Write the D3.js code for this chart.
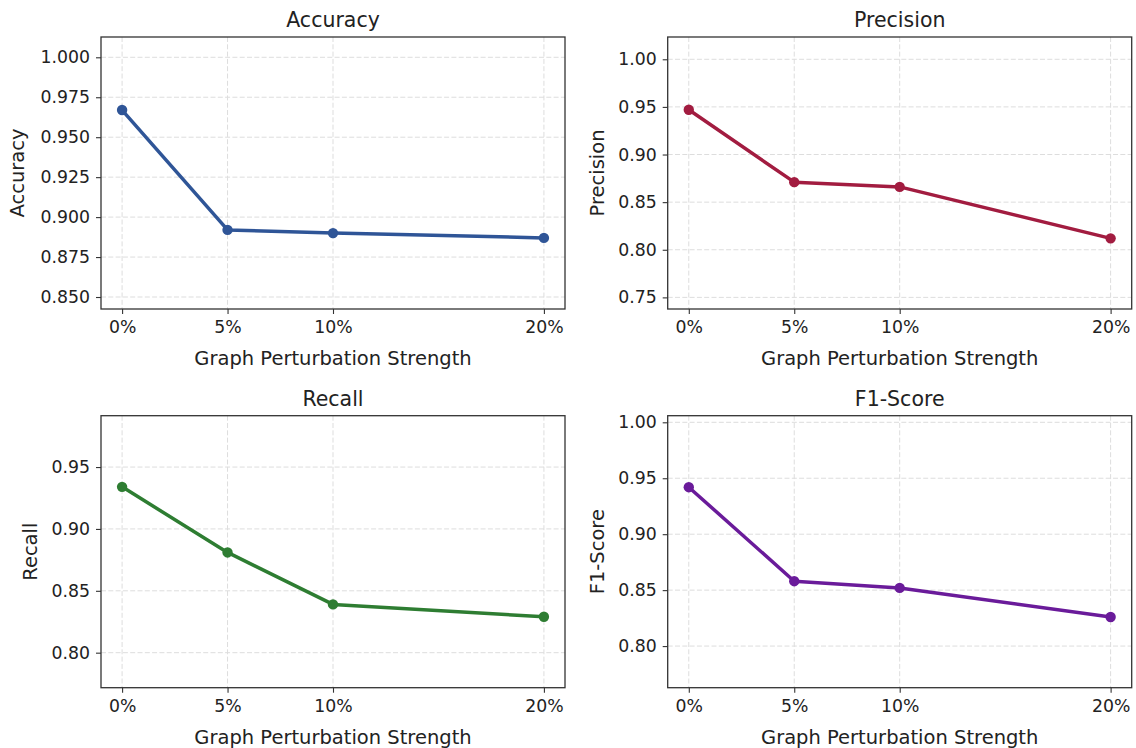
<!DOCTYPE html>
<html>
<head>
<meta charset="utf-8">
<script src="https://cdn.jsdelivr.net/npm/d3@7"></script>
<style>
  body { margin: 0; background: #fff; }
  svg text { font-family: "DejaVu Sans", sans-serif; fill: #222; }
</style>
</head>
<body>
<div id="chart"></div>
<script>
// perturbation levels (x) and their labels
const strengths = [0, 5, 10, 20];
const strengthLabels = ["0%", "5%", "10%", "20%"];

// metric values
const accuracy  = [0.967, 0.892, 0.890, 0.887];
const precision = [0.947, 0.871, 0.866, 0.812];
const recall    = [0.934, 0.881, 0.839, 0.829];
const f1Score   = [0.942, 0.858, 0.852, 0.826];

// y ticks per panel
const accTicks  = [0.850, 0.875, 0.900, 0.925, 0.950, 0.975, 1.000];
const precTicks = [0.75, 0.80, 0.85, 0.90, 0.95, 1.00];
const recTicks  = [0.80, 0.85, 0.90, 0.95];
const f1Ticks   = [0.80, 0.85, 0.90, 0.95, 1.00];

// y limits per panel
const accLim  = [0.8425, 1.0127];
const precLim = [0.7378, 1.0234];
const recLim  = [0.7717, 0.9915];
const f1Lim   = [0.7628, 1.0059];

const W = 1136, H = 748;
const pw = 464, ph = 272;

const panels = [
  {title: "Accuracy",  values: accuracy,  ticks: accTicks,  lim: accLim,  fmt: ".3f", color: "#2f5597", x: 101,   y: 37,    labelOff: 77},
  {title: "Precision", values: precision, ticks: precTicks, lim: precLim, fmt: ".2f", color: "#a21c40", x: 667.7, y: 37,    labelOff: 64},
  {title: "Recall",    values: recall,    ticks: recTicks,  lim: recLim,  fmt: ".2f", color: "#2e7d32", x: 101,   y: 415.7, labelOff: 64},
  {title: "F1-Score",  values: f1Score,   ticks: f1Ticks,   lim: f1Lim,   fmt: ".2f", color: "#6a1b9a", x: 667.7, y: 415.7, labelOff: 64}
];

const svg = d3.select("#chart").append("svg")
    .attr("width", W)
    .attr("height", H);

const x = d3.scaleLinear().domain([-1, 21]).range([0, pw]);

panels.forEach(p => {
  const g = svg.append("g").attr("transform", `translate(${p.x},${p.y})`);
  const y = d3.scaleLinear().domain(p.lim).range([ph, 0]);

  // grid
  g.append("g")
    .selectAll("line")
    .data(p.ticks)
    .join("line")
      .attr("x1", 0).attr("x2", pw)
      .attr("y1", d => y(d)).attr("y2", d => y(d))
      .attr("stroke", "#dddddd")
      .attr("stroke-width", 1)
      .attr("stroke-dasharray", "5,2.3");
  g.append("g")
    .selectAll("line")
    .data(strengths)
    .join("line")
      .attr("y1", 0).attr("y2", ph)
      .attr("x1", d => x(d)).attr("x2", d => x(d))
      .attr("stroke", "#dddddd")
      .attr("stroke-width", 1)
      .attr("stroke-dasharray", "5,2.3");

  // axes
  const xAxis = g.append("g")
    .attr("transform", `translate(0,${ph})`)
    .call(d3.axisBottom(x).tickValues(strengths)
      .tickFormat((d, i) => strengthLabels[i]).tickSize(5).tickPadding(7).tickSizeOuter(0));
  const yAxis = g.append("g")
    .call(d3.axisLeft(y).tickValues(p.ticks)
      .tickFormat(d3.format(p.fmt)).tickSize(5).tickPadding(6).tickSizeOuter(0));
  [xAxis, yAxis].forEach(a => {
    a.select(".domain").remove();
    a.selectAll(".tick line").attr("stroke", "#333").attr("stroke-width", 1.1);
    a.selectAll(".tick text").style("font-size", "17.3px").attr("fill", "#222");
  });

  // frame
  g.append("rect")
    .attr("width", pw).attr("height", ph)
    .attr("fill", "none")
    .attr("stroke", "#333")
    .attr("stroke-width", 1.3);

  // line + markers
  const pts = strengths.map((s, i) => ({s, v: p.values[i]}));
  g.append("path")
    .datum(pts)
    .attr("fill", "none")
    .attr("stroke", p.color)
    .attr("stroke-width", 3.5)
    .attr("stroke-linejoin", "round")
    .attr("d", d3.line().x(d => x(d.s)).y(d => y(d.v)));
  g.selectAll("circle")
    .data(pts)
    .join("circle")
      .attr("cx", d => x(d.s))
      .attr("cy", d => y(d.v))
      .attr("r", 5.2)
      .attr("fill", p.color);

  // texts
  g.append("text")
    .attr("x", pw / 2).attr("y", -10)
    .attr("text-anchor", "middle")
    .style("font-size", "20.5px")
    .text(p.title);
  g.append("text")
    .attr("x", pw / 2).attr("y", ph + 56)
    .attr("text-anchor", "middle")
    .style("font-size", "19.5px")
    .text("Graph Perturbation Strength");
  g.append("text")
    .attr("transform", `translate(${-p.labelOff},${ph / 2}) rotate(-90)`)
    .attr("text-anchor", "middle")
    .style("font-size", "19.5px")
    .text(p.title);
});
</script>
</body>
</html>
